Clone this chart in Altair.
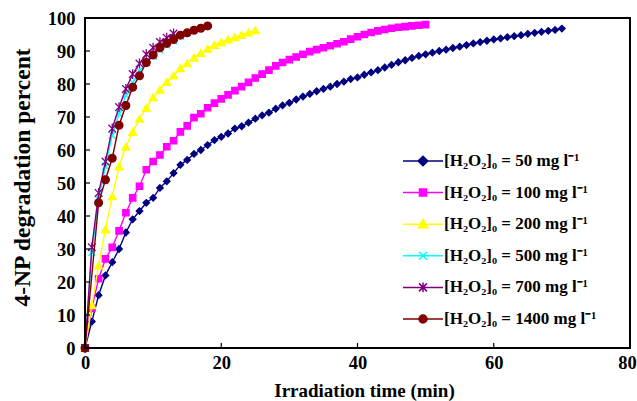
import altair as alt
import pandas as pd

# Series labels and colours
labels = [
    "[H₂O₂]₀ = 50 mg l⁻¹",
    "[H₂O₂]₀ = 100 mg l⁻¹",
    "[H₂O₂]₀ = 200 mg l⁻¹",
    "[H₂O₂]₀ = 500 mg l⁻¹",
    "[H₂O₂]₀ = 700 mg l⁻¹",
    "[H₂O₂]₀ = 1400 mg l⁻¹",
]
colors = ["#000080", "#FF00FF", "#FFFF00", "#00FFFF", "#800080", "#800000"]

# Degradation percent vs irradiation time (min)
t_50 = list(range(0, 71))
y_50 = [0, 8, 16, 22, 26, 30, 35, 39, 41.5, 44, 45.5, 48.5, 50.5, 53, 55.5, 57,
        58.8, 60, 61.5, 63, 64, 65, 66.5, 67.2, 68.3, 69.5, 70.5, 71.3, 72.5,
        73.5, 74.3, 75.3, 76.2, 77, 77.8, 78.5, 79.2, 80, 80.7, 81.5, 82, 82.8,
        83.5, 84.2, 85, 85.8, 86.6, 87.2, 87.9, 88.5, 89, 89.5, 90, 90.4, 90.9,
        91.3, 91.8, 92.3, 92.7, 93.1, 93.5, 93.8, 94.2, 94.5, 94.8, 95.2, 95.5,
        95.8, 96.1, 96.4, 96.8]

t_100 = list(range(0, 51))
y_100 = [0, 12, 21, 27, 30.5, 35.5, 41, 45.5, 49, 54, 56.5, 58.5, 61, 62.8,
         65.5, 67.3, 69.8, 71, 72.8, 74.2, 75.5, 76.7, 78, 79.2, 80.5, 81.8, 83,
         84.2, 85.5, 86.5, 87.4, 88.2, 89, 89.8, 90.4, 91, 91.6, 92.2, 92.8,
         93.6, 94.3, 95, 95.6, 96.1, 96.5, 96.9, 97.2, 97.4, 97.6, 97.8, 98]

t_200 = list(range(0, 26))
y_200 = [0, 13, 25, 36, 46, 55, 61, 65.5, 69.5, 72.8, 76, 78.3, 80.6, 82.6,
         84.8, 86.3, 88, 89.4, 90.7, 91.8, 92.7, 93.5, 94.2, 94.9, 95.6, 96.3]

t_500 = list(range(0, 15))
y_500 = [0, 29, 45, 55, 64.5, 71, 76.5, 80.5, 84, 86.5, 88.5, 90.3, 91.8, 93.2,
         94.5]

t_700 = list(range(0, 14))
y_700 = [0, 30.5, 47, 56.5, 66.5, 73, 78.5, 83, 86.2, 89, 91, 92.7, 94, 95.3]

t_1400 = [0, 2, 3, 4, 5, 6, 7, 8, 9, 10, 11, 12, 13, 14, 15, 16, 17, 18]
y_1400 = [0, 44, 51, 57.5, 67.5, 73.5, 79, 82.5, 86.5, 88.8, 91, 92.3, 93.5,
          94.8, 95.5, 96.3, 96.9, 97.6]

x_tick_values = [0, 20, 40, 60, 80]
y_tick_values = [0, 10, 20, 30, 40, 50, 60, 70, 80, 90, 100]
x_inner_ticks = [20, 40, 60]
y_inner_ticks = [10, 20, 30, 40, 50, 60, 70, 80, 90]

series_t = [t_50, t_100, t_200, t_500, t_700, t_1400]
series_y = [y_50, y_100, y_200, y_500, y_700, y_1400]

rows = []
for lab, ts, ys in zip(labels, series_t, series_y):
    for t, y in zip(ts, ys):
        rows.append({"t": t, "y": y, "series": lab})
df = pd.DataFrame(rows)

# Marker shapes drawn on the curves
X_PATH = "M-1,-1L1,1M-1,1L1,-1"
STAR_PATH = "M-1,-1L1,1M-1,1L1,-1M0,-1.3V1.3"
marker_shapes = ["diamond", "square", "triangle-up", X_PATH, STAR_PATH, "circle"]
marker_sizes = [42, 40, 62, 50, 58, 60]

# Legend symbols: a short line with the marker in its middle
legend_paths = [
    "M-4,0H1M-1.5,-0.6L-0.9,0L-1.5,0.6L-2.1,0Z",
    "M-4,0H1M-1.94,-0.44H-1.06V0.44H-1.94Z",
    "M-4,0H1M-1.5,-0.62L-0.9,0.44L-2.1,0.44Z",
    "M-4,0H1M-2,-0.5L-1,0.5M-2,0.5L-1,-0.5",
    "M-4,0H1M-2,-0.5L-1,0.5M-2,0.5L-1,-0.5M-1.5,-0.62V0.62",
    "M-4,0H1M-2,0A0.5,0.5,0,1,1,-1,0A0.5,0.5,0,1,1,-2,0Z",
]

W, H = 545, 330
color_scale = alt.Scale(domain=labels, range=colors)
x_scale = alt.Scale(domain=[0, 80], nice=False)
y_scale = alt.Scale(domain=[0, 100], nice=False)

x_axis = alt.Axis(
    values=x_tick_values, grid=False, domain=False, ticks=False,
    labelFlush=False, labelPadding=5, labelFontSize=18.5, labelFontWeight="bold",
    labelColor="black",
    # keep the last label inside the page
    labelOffset={"condition": {"test": "datum.value == 80", "value": -3}, "value": 0},
    title="Irradiation time (min)", titleFontSize=19,
    titleFontWeight="bold", titleColor="black", titleX=279, titleY=42,
    titleBaseline="middle", titleAlign="center",
)
y_axis = alt.Axis(
    values=y_tick_values, grid=False, domain=False, ticks=False,
    labelFlush=False, labelPadding=10, labelFontSize=18.5, labelFontWeight="bold",
    labelColor="black", title="4-NP degradation percent", titleFontSize=23.5,
    titleFontWeight="bold", titleColor="black", titleX=-63, titleY=159,
    titleBaseline="middle", titleAlign="center", titleAngle=270,
)


def xenc(field="t:Q"):
    return alt.X(field, scale=x_scale, axis=x_axis)


def yenc(field="y:Q"):
    return alt.Y(field, scale=y_scale, axis=y_axis)


base = alt.Chart(df)

# Legend carrier (no rows of its own); comes first so its legend settings win
legend_def = alt.Legend(
    orient="none", legendX=341, legendY=134, padding=0,
    symbolSize=256, symbolStrokeWidth=1.5, labelOffset=0, rowPadding=14.6,
    labelFont="Liberation Serif", labelFontSize=17, labelFontWeight="bold",
    labelColor="black", labelLimit=400,
)
legend_layer = base.transform_filter(alt.datum.t < 0).mark_point(
    size=256, strokeWidth=1.5, opacity=1
).encode(
    x=xenc(), y=yenc(),
    fill=alt.Fill("series:N", scale=color_scale, legend=legend_def, title=None),
    stroke=alt.Stroke("series:N", scale=color_scale, legend=legend_def, title=None),
    shape=alt.Shape("series:N", scale=alt.Scale(domain=labels, range=legend_paths),
                    legend=legend_def, title=None),
)

layers = [legend_layer]
for i, lab in enumerate(labels):
    sub = base.transform_filter(alt.datum.series == lab)
    line = sub.mark_line(strokeWidth=1.4).encode(
        x=xenc(), y=yenc(),
        stroke=alt.Stroke("series:N", scale=color_scale, legend=None),
    )
    hollow = marker_shapes[i] in (X_PATH, STAR_PATH)
    fill = (alt.value("transparent") if hollow
            else alt.Fill("series:N", scale=color_scale, legend=None))
    pts = sub.mark_point(shape=marker_shapes[i], size=marker_sizes[i],
                         strokeWidth=1.3, opacity=1).encode(
        x=xenc(), y=yenc(), fill=fill,
        stroke=alt.Stroke("series:N", scale=color_scale, legend=None),
    )
    layers += [line, pts]

# Inward tick marks on the left and bottom edges
xt = alt.Chart(pd.DataFrame({"v": x_inner_ticks})).mark_rule(
    color="black", strokeWidth=1.2
).encode(x=xenc("v:Q"), y=alt.value(H), y2=alt.value(H - 5))
yt = alt.Chart(pd.DataFrame({"v": y_inner_ticks})).mark_rule(
    color="black", strokeWidth=1.2
).encode(y=yenc("v:Q"), x=alt.value(0), x2=alt.value(5))

# Plot frame
frame = alt.Chart(pd.DataFrame({"f": [0]})).mark_rect(
    fillOpacity=0, stroke="black", strokeWidth=2
).encode(x=alt.value(0), x2=alt.value(W), y=alt.value(0), y2=alt.value(H))

chart = alt.layer(*layers, xt, yt, frame).properties(
    width=W, height=H,
    autosize=alt.AutoSizeParams(type="none"),
    padding={"left": 85, "top": 18, "right": 7, "bottom": 53},
    background="white",
).configure(
    font="Liberation Serif",
    view=alt.ViewConfig(stroke=None),
)

chart.save("out.html", embed_options={"renderer": "svg", "actions": False})
